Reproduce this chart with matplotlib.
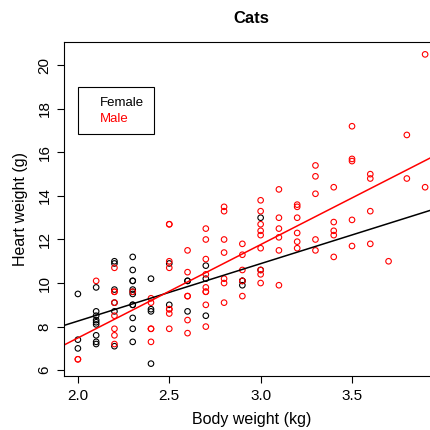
import numpy as np
import matplotlib
matplotlib.use("Agg")
import matplotlib.pyplot as plt
from matplotlib.lines import Line2D

# ─────────────────────────────────────
# DATA (MASS::cats)
# ─────────────────────────────────────
female_bwt = [2.0, 2.0, 2.0, 2.1, 2.1, 2.1, 2.1, 2.1, 2.1, 2.1, 2.1, 2.1,
              2.2, 2.2, 2.2, 2.2, 2.2, 2.2, 2.3, 2.3, 2.3, 2.3, 2.3, 2.3,
              2.3, 2.3, 2.3, 2.3, 2.3, 2.3, 2.4, 2.4, 2.4, 2.4, 2.5, 2.5,
              2.6, 2.6, 2.6, 2.7, 2.7, 2.7, 2.9, 2.9, 2.9, 3.0, 3.0]
female_hwt = [7.0, 7.4, 9.5, 7.2, 7.3, 7.6, 8.1, 8.2, 8.3, 8.5, 8.7, 9.8,
              7.1, 8.7, 9.1, 9.7, 10.9, 11.0, 7.3, 7.9, 8.4, 9.0, 9.0, 9.5,
              9.6, 9.7, 10.1, 10.1, 10.6, 11.2, 6.3, 8.7, 8.8, 10.2, 9.0, 10.9,
              8.7, 10.1, 10.1, 8.5, 10.2, 10.8, 9.9, 10.1, 10.1, 10.6, 13.0]

male_bwt = [2.0, 2.0, 2.1, 2.2, 2.2, 2.2, 2.2, 2.2, 2.2, 2.2, 2.2, 2.3,
            2.4, 2.4, 2.4, 2.4, 2.4, 2.5, 2.5, 2.5, 2.5, 2.5, 2.5, 2.5, 2.5,
            2.6, 2.6, 2.6, 2.6, 2.6, 2.6, 2.7, 2.7, 2.7, 2.7, 2.7, 2.7, 2.7,
            2.7, 2.7, 2.8, 2.8, 2.8, 2.8, 2.8, 2.8, 2.8, 2.9, 2.9, 2.9, 2.9,
            2.9, 3.0, 3.0, 3.0, 3.0, 3.0, 3.0, 3.0, 3.0, 3.0, 3.1, 3.1, 3.1,
            3.1, 3.1, 3.1, 3.2, 3.2, 3.2, 3.2, 3.2, 3.2, 3.3, 3.3, 3.3, 3.3,
            3.3, 3.4, 3.4, 3.4, 3.4, 3.4, 3.5, 3.5, 3.5, 3.5, 3.5, 3.6, 3.6,
            3.6, 3.6, 3.7, 3.8, 3.8, 3.9, 3.9]
male_hwt = [6.5, 6.5, 10.1, 7.2, 7.6, 7.9, 8.5, 9.1, 9.6, 9.6, 10.7, 9.6,
            7.3, 7.9, 7.9, 9.1, 9.3, 7.9, 8.6, 8.8, 8.8, 10.7, 11.0, 12.7, 12.7,
            7.7, 8.3, 9.4, 9.4, 10.5, 11.5, 8.0, 9.0, 9.6, 9.6, 9.8, 10.4, 11.1,
            12.0, 12.5, 9.1, 10.0, 10.2, 11.4, 12.0, 13.3, 13.5, 9.4, 10.1, 10.6, 11.3,
            11.8, 10.0, 10.4, 10.6, 11.6, 12.2, 12.4, 12.7, 13.3, 13.8, 9.9, 11.5, 12.1,
            12.5, 13.0, 14.3, 11.6, 11.9, 12.3, 13.0, 13.5, 13.6, 11.5, 12.0, 14.1, 14.9,
            15.4, 11.2, 12.2, 12.4, 12.8, 14.4, 11.7, 12.9, 15.6, 15.7, 17.2, 11.8, 13.3,
            14.8, 15.0, 11.0, 14.8, 16.8, 14.4, 20.5]

x_ticks = [2.0, 2.5, 3.0, 3.5]
x_tick_labels = ["2.0", "2.5", "3.0", "3.5"]
y_ticks = [6, 8, 10, 12, 14, 16, 18, 20]
legend_labels = ["Female", "Male"]

# ─────────────────────────────────────
# PLOT
# ─────────────────────────────────────
plt.rcParams['font.family'] = ['Liberation Sans', 'DejaVu Sans']

W, H = 431, 430
fig = plt.figure(figsize=(W / 100, H / 100), dpi=100)
# axes box in pixels: left 64, right 439 (beyond the image), top 42, bottom 376
ax = fig.add_axes([64 / W, (H - 376) / H, (439 - 64) / W, (376 - 42) / H])

ax.scatter(female_bwt, female_hwt, s=16, facecolors='none', edgecolors='black', linewidths=0.8)
ax.scatter(male_bwt, male_hwt, s=16, facecolors='none', edgecolors='red', linewidths=0.8)

# R-style axis extension (4 %)
all_x = female_bwt + male_bwt
all_y = female_hwt + male_hwt
dx = (max(all_x) - min(all_x)) * 0.04
dy = (max(all_y) - min(all_y)) * 0.04
xlim = (min(all_x) - dx, max(all_x) + dx)
ylim = (min(all_y) - dy, max(all_y) + dy)

# regression lines across the full plot
xs = np.array(xlim)
bf = np.polyfit(female_bwt, female_hwt, 1)
bm = np.polyfit(male_bwt, male_hwt, 1)
ax.plot(xs, np.polyval(bf, xs), color='black', lw=1.1)
ax.plot(xs, np.polyval(bm, xs), color='red', lw=1.1)

ax.set_xlim(xlim)
ax.set_ylim(ylim)
ax.set_xticks(x_ticks)
ax.set_xticklabels(x_tick_labels)
ax.set_yticks(y_ticks)
ax.set_yticklabels([str(v) for v in y_ticks], rotation=90, va='center')
ax.tick_params(direction='out', length=5, width=0.8, labelsize=11, pad=4)

for sp in ax.spines.values():
    sp.set_linewidth(0.8)

ax.set_xlabel("Body weight (kg)", fontsize=11.5, labelpad=7)
ax.set_ylabel("Heart weight (g)", fontsize=11.5, labelpad=7)
ax.set_title("Cats", fontsize=12, fontweight='bold', pad=14)

handles = [Line2D([], [], linestyle='none') for _ in legend_labels]
leg = ax.legend(handles, legend_labels, loc='upper left', bbox_to_anchor=(0.037, 0.865),
                labelcolor=['black', 'red'], frameon=True, fancybox=False,
                edgecolor='black', framealpha=1, fontsize=9.5, handlelength=0.5,
                handletextpad=0.5, borderpad=0.7, labelspacing=0.3, borderaxespad=0)
leg.get_frame().set_linewidth(0.8)

plt.savefig("out.png", dpi=100)
